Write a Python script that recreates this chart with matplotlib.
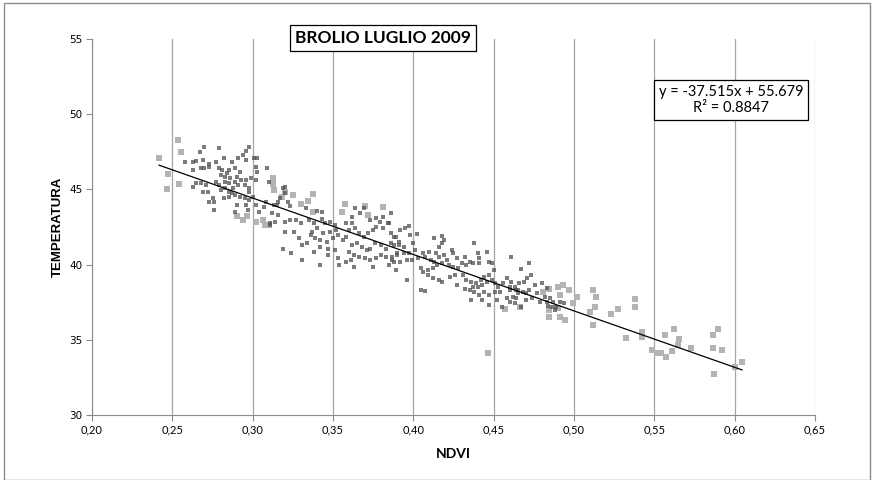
import matplotlib.pyplot as plt
from matplotlib.patches import Rectangle
import numpy as np

## NDVI / temperature samples, larger light markers
big_ndvi = [0.2535, 0.2554, 0.2417, 0.2473, 0.2467, 0.2541, 0.3127, 0.3127, 0.3133,
            0.2902, 0.2940, 0.2965, 0.3021, 0.3064, 0.3077, 0.3102,
            0.3183, 0.3201, 0.3251, 0.3301, 0.3344, 0.3375, 0.3375, 0.3575, 0.3556,
            0.3699, 0.3718, 0.3811,
            0.4807, 0.4844, 0.4900, 0.4931, 0.4969, 0.4913, 0.5019, 0.4994, 0.5118,
            0.5137, 0.5131, 0.5100, 0.5230, 0.5274, 0.5380, 0.5380, 0.4844, 0.4900,
            0.4913, 0.4944, 0.4844, 0.5118, 0.5324, 0.4465, 0.4571, 0.4664, 0.5423,
            0.5423, 0.5485, 0.5517, 0.5541, 0.5573, 0.5610, 0.5566, 0.5622, 0.5653,
            0.5647, 0.5728, 0.5865, 0.5896, 0.5865, 0.5921, 0.5871, 0.6046, 0.6002]
big_temp = [48.28, 47.49, 47.09, 46.02, 45.03, 45.36, 45.76, 45.36, 44.96,
            43.23, 42.97, 43.23, 42.83, 42.97, 42.63, 42.63,
            44.49, 44.83, 44.63, 44.03, 44.23, 44.69, 43.50, 44.03, 43.50,
            43.90, 43.30, 43.83,
            38.18, 38.38, 38.51, 38.64, 38.31, 37.98, 37.85, 37.45, 38.31,
            37.85, 37.18, 36.85, 36.72, 37.05, 37.71, 37.18, 36.98, 37.11,
            36.52, 36.32, 36.52, 35.98, 35.12, 34.12, 37.05, 37.18, 35.52,
            35.19, 34.32, 34.12, 34.12, 33.86, 34.26, 35.32, 35.72, 35.05,
            34.65, 34.45, 35.32, 35.72, 34.45, 34.32, 32.73, 33.52, 33.19]

## smaller darker markers
small_ndvi = [
    0.279, 0.270, 0.267, 0.258, 0.263, 0.265, 0.269, 0.263, 0.268, 0.270, 0.273, 0.273,
    0.277, 0.279, 0.281, 0.282, 0.285, 0.287, 0.291, 0.294, 0.296, 0.298, 0.301, 0.303,
    0.302, 0.303, 0.296, 0.292, 0.289, 0.284, 0.280, 0.283, 0.286, 0.290, 0.293, 0.296,
    0.299, 0.302, 0.289, 0.291, 0.295, 0.298, 0.268, 0.271, 0.277, 0.280, 0.283, 0.285,
    0.287, 0.289, 0.292, 0.295, 0.298, 0.300, 0.298, 0.272, 0.275, 0.276, 0.273, 0.276,
    0.269, 0.290, 0.289, 0.296, 0.297, 0.302, 0.304, 0.307, 0.308, 0.309, 0.310, 0.313,
    0.316, 0.316, 0.314, 0.311, 0.263, 0.265, 0.282, 0.285, 0.288, 0.285, 0.279, 0.283,
    0.320, 0.319, 0.317, 0.323, 0.333, 0.340, 0.343, 0.315, 0.312, 0.311, 0.320, 0.323,
    0.327, 0.330, 0.335, 0.338, 0.343, 0.345, 0.348, 0.351, 0.352, 0.348, 0.344, 0.340,
    0.337, 0.336, 0.339, 0.342, 0.346, 0.350, 0.353, 0.356, 0.358, 0.360, 0.362, 0.364,
    0.366, 0.369, 0.372, 0.375, 0.377, 0.379, 0.381, 0.384, 0.386, 0.389, 0.391, 0.388,
    0.383, 0.380, 0.376, 0.373, 0.371, 0.368, 0.365, 0.362, 0.360, 0.363, 0.366, 0.370,
    0.373, 0.377, 0.380, 0.383, 0.387, 0.390, 0.361, 0.358, 0.353, 0.351, 0.347, 0.342,
    0.338, 0.331, 0.329, 0.326, 0.320, 0.319, 0.324, 0.334, 0.331, 0.342, 0.354, 0.363,
    0.375, 0.358, 0.362, 0.367, 0.373, 0.377, 0.381, 0.386, 0.364, 0.369, 0.347, 0.320,
    0.322,
    0.385, 0.392, 0.395, 0.397, 0.398, 0.402, 0.388, 0.386, 0.391, 0.394, 0.400, 0.401,
    0.397, 0.394, 0.390, 0.387, 0.388, 0.392, 0.396, 0.399, 0.403, 0.406, 0.407, 0.410,
    0.411, 0.413, 0.414, 0.416, 0.419, 0.421, 0.424, 0.425, 0.427, 0.430, 0.432, 0.433,
    0.435, 0.437, 0.440, 0.441, 0.438, 0.446, 0.447, 0.449, 0.450, 0.447, 0.444, 0.442,
    0.439, 0.436, 0.433, 0.431, 0.428, 0.425, 0.422, 0.418, 0.415, 0.412, 0.409, 0.406,
    0.405, 0.409, 0.412, 0.416, 0.418, 0.423, 0.426, 0.427, 0.432, 0.435, 0.437, 0.440,
    0.443, 0.446, 0.449, 0.451, 0.453, 0.456, 0.458, 0.461, 0.463, 0.465, 0.460, 0.454,
    0.451, 0.447, 0.444, 0.441, 0.438, 0.436, 0.443, 0.452, 0.458, 0.464, 0.447, 0.455,
    0.418, 0.416, 0.413, 0.418, 0.419, 0.441, 0.396, 0.405, 0.407, 0.389, 0.385,
    0.461, 0.467, 0.472, 0.473, 0.471, 0.469, 0.466, 0.464, 0.460, 0.462, 0.463, 0.465,
    0.468, 0.470, 0.472, 0.476, 0.480, 0.477, 0.474, 0.479, 0.482, 0.483, 0.485, 0.487,
    0.489, 0.486, 0.491, 0.494, 0.483, 0.460, 0.467, 0.470, 0.488, 0.484]
small_temp = [
    47.73, 47.80, 47.47, 46.84, 46.84, 46.89, 46.96, 46.29, 46.40, 46.40, 46.51, 46.67,
    46.84, 46.40, 46.29, 47.11, 46.29, 46.84, 47.07, 47.29, 47.56, 47.84, 47.07, 47.07,
    46.51, 46.18, 46.96, 46.18, 46.40, 46.07, 45.96, 45.85, 45.74, 45.85, 45.63, 45.63,
    45.74, 45.63, 45.51, 45.29, 45.29, 45.07, 45.40, 45.29, 45.51, 44.96, 45.07, 44.85,
    44.74, 44.63, 44.52, 44.40, 44.29, 44.52, 44.85, 44.85, 44.40, 44.18, 44.18, 43.63,
    44.85, 43.96, 43.52, 43.96, 43.63, 43.96, 43.52, 43.85, 44.18, 46.40, 45.51, 43.96,
    44.18, 43.30, 42.86, 42.64, 45.18, 45.40, 44.40, 44.52, 45.07, 45.40, 45.29, 45.51,
    45.18, 45.07, 44.40, 43.89, 43.74, 43.58, 43.52, 43.96, 43.45, 42.78, 42.85, 42.96,
    42.96, 42.74, 42.96, 42.74, 43.00, 42.74, 42.85, 42.63, 42.29, 42.18, 42.07, 42.41,
    42.18, 41.96, 41.74, 41.63, 41.52, 41.74, 41.96, 41.63, 41.85, 42.29, 42.74, 42.41,
    42.07, 41.85, 42.07, 42.29, 42.52, 42.85, 42.41, 42.74, 42.07, 41.85, 41.52, 41.30,
    41.07, 41.30, 41.41, 41.07, 40.96, 41.18, 41.41, 41.30, 40.85, 40.63, 40.52, 40.41,
    40.30, 40.41, 40.63, 40.52, 40.30, 40.74, 40.30, 40.19, 40.41, 40.96, 40.63, 41.18,
    40.85, 41.30, 41.74, 42.18, 42.18, 41.07, 40.74, 41.41, 40.30, 39.96, 39.96, 39.85,
    39.85, 42.74, 43.18, 43.40, 42.96, 43.07, 43.18, 43.40, 43.74, 43.74, 41.07, 44.74,
    44.18,
    42.74, 42.30, 42.41, 42.57, 41.97, 42.03, 41.85, 41.41, 41.30, 41.19, 41.41, 40.97,
    40.74, 40.74, 40.63, 40.52, 40.19, 40.19, 40.30, 40.30, 40.41, 40.74, 40.52, 40.86,
    40.30, 40.19, 40.74, 40.52, 40.63, 40.30, 40.97, 40.74, 40.41, 40.08, 40.52, 39.97,
    40.19, 40.08, 40.74, 40.41, 41.41, 40.86, 40.19, 40.08, 39.63, 39.30, 39.19, 38.97,
    38.75, 38.86, 38.97, 39.30, 39.75, 39.86, 39.97, 40.08, 39.97, 39.75, 39.63, 39.52,
    39.75, 39.30, 39.08, 38.97, 38.86, 39.19, 39.30, 38.64, 38.41, 38.30, 38.52, 38.52,
    38.64, 38.86, 38.97, 38.75, 38.52, 38.75, 39.08, 38.86, 38.52, 38.30, 38.30, 38.19,
    38.19, 37.97, 38.19, 37.97, 38.19, 37.64, 37.64, 37.64, 37.75, 37.75, 37.30, 37.19,
    41.41, 41.19, 41.74, 41.90, 41.63, 40.08, 38.97, 38.30, 38.26, 39.63, 39.97,
    40.49, 39.69, 40.13, 39.31, 39.09, 38.87, 38.75, 38.31, 38.53, 37.87, 37.42, 38.09,
    38.20, 38.09, 38.31, 38.64, 38.75, 38.09, 37.76, 37.53, 37.87, 37.53, 37.76, 37.53,
    37.20, 37.20, 37.53, 37.42, 38.42, 37.53, 37.20, 37.64, 36.98, 37.27]

## linear trend reported on the chart
slope = -37.515
intercept = 55.679
r2 = 0.8847
x_ticks = [0.20, 0.25, 0.30, 0.35, 0.40, 0.45, 0.50, 0.55, 0.60, 0.65]
y_ticks = [30, 35, 40, 45, 50, 55]

fig = plt.figure(figsize=(8.76, 4.8), dpi=100)
fig.patches.append(Rectangle((4 / 876, 0), 866 / 876, 477 / 480, transform=fig.transFigure,
                             fill=False, edgecolor='#8c8c8c', linewidth=1.0))
ax = fig.add_axes([92 / 876, 65 / 480, 723 / 876, 376 / 480])

ax.scatter(big_ndvi, big_temp, marker='s', s=14, color='#b3b3b3', linewidths=0, zorder=3)
ax.scatter(small_ndvi, small_temp, marker='s', s=5.5, color='#505050', alpha=0.75,
           linewidths=0, zorder=3)

xs = np.array([min(big_ndvi + small_ndvi), max(big_ndvi + small_ndvi)])
ax.plot(xs, slope * xs + intercept, color='black', linewidth=0.9, zorder=4)

ax.set_xlim(0.20, 0.65)
ax.set_ylim(30, 55)
ax.set_xticks(x_ticks)
ax.set_xticklabels([f"{t:.2f}".replace('.', ',') for t in x_ticks], fontfamily='Lato', fontsize=8)
ax.set_yticks(y_ticks)
ax.set_yticklabels([str(t) for t in y_ticks], fontfamily='DejaVu Sans', fontsize=7.5)
ax.tick_params(axis='both', direction='out', length=4, color='#8c8c8c', pad=3)
ax.grid(axis='x', color='#a6a6a6', linewidth=0.9)
ax.set_axisbelow(True)
for side in ['top', 'right']:
    ax.spines[side].set_visible(False)
for side in ['left', 'bottom']:
    ax.spines[side].set_color('#8c8c8c')

ax.set_xlabel('NDVI', fontfamily='Lato', fontweight='bold', fontsize=10, labelpad=9)
ax.set_ylabel('TEMPERATURA', fontfamily='Liberation Sans', fontweight='bold', fontsize=9.5,
              labelpad=4)

fig.text(383 / 876, 1 - 38 / 480, 'BROLIO LUGLIO 2009', fontfamily='Lato', fontweight='bold',
         fontsize=12.5, ha='center', va='center',
         bbox=dict(boxstyle='square,pad=0.3', facecolor='white', edgecolor='black', linewidth=0.9))
fig.text(731 / 876, 1 - 100 / 480, f"y = {slope}x + {intercept}\nR² = {r2}", fontfamily='Lato',
         fontsize=10.5, ha='center', va='center', linespacing=1.1,
         bbox=dict(boxstyle='square,pad=0.35', facecolor='white', edgecolor='black', linewidth=0.9))

fig.savefig('out.png', dpi=100)
